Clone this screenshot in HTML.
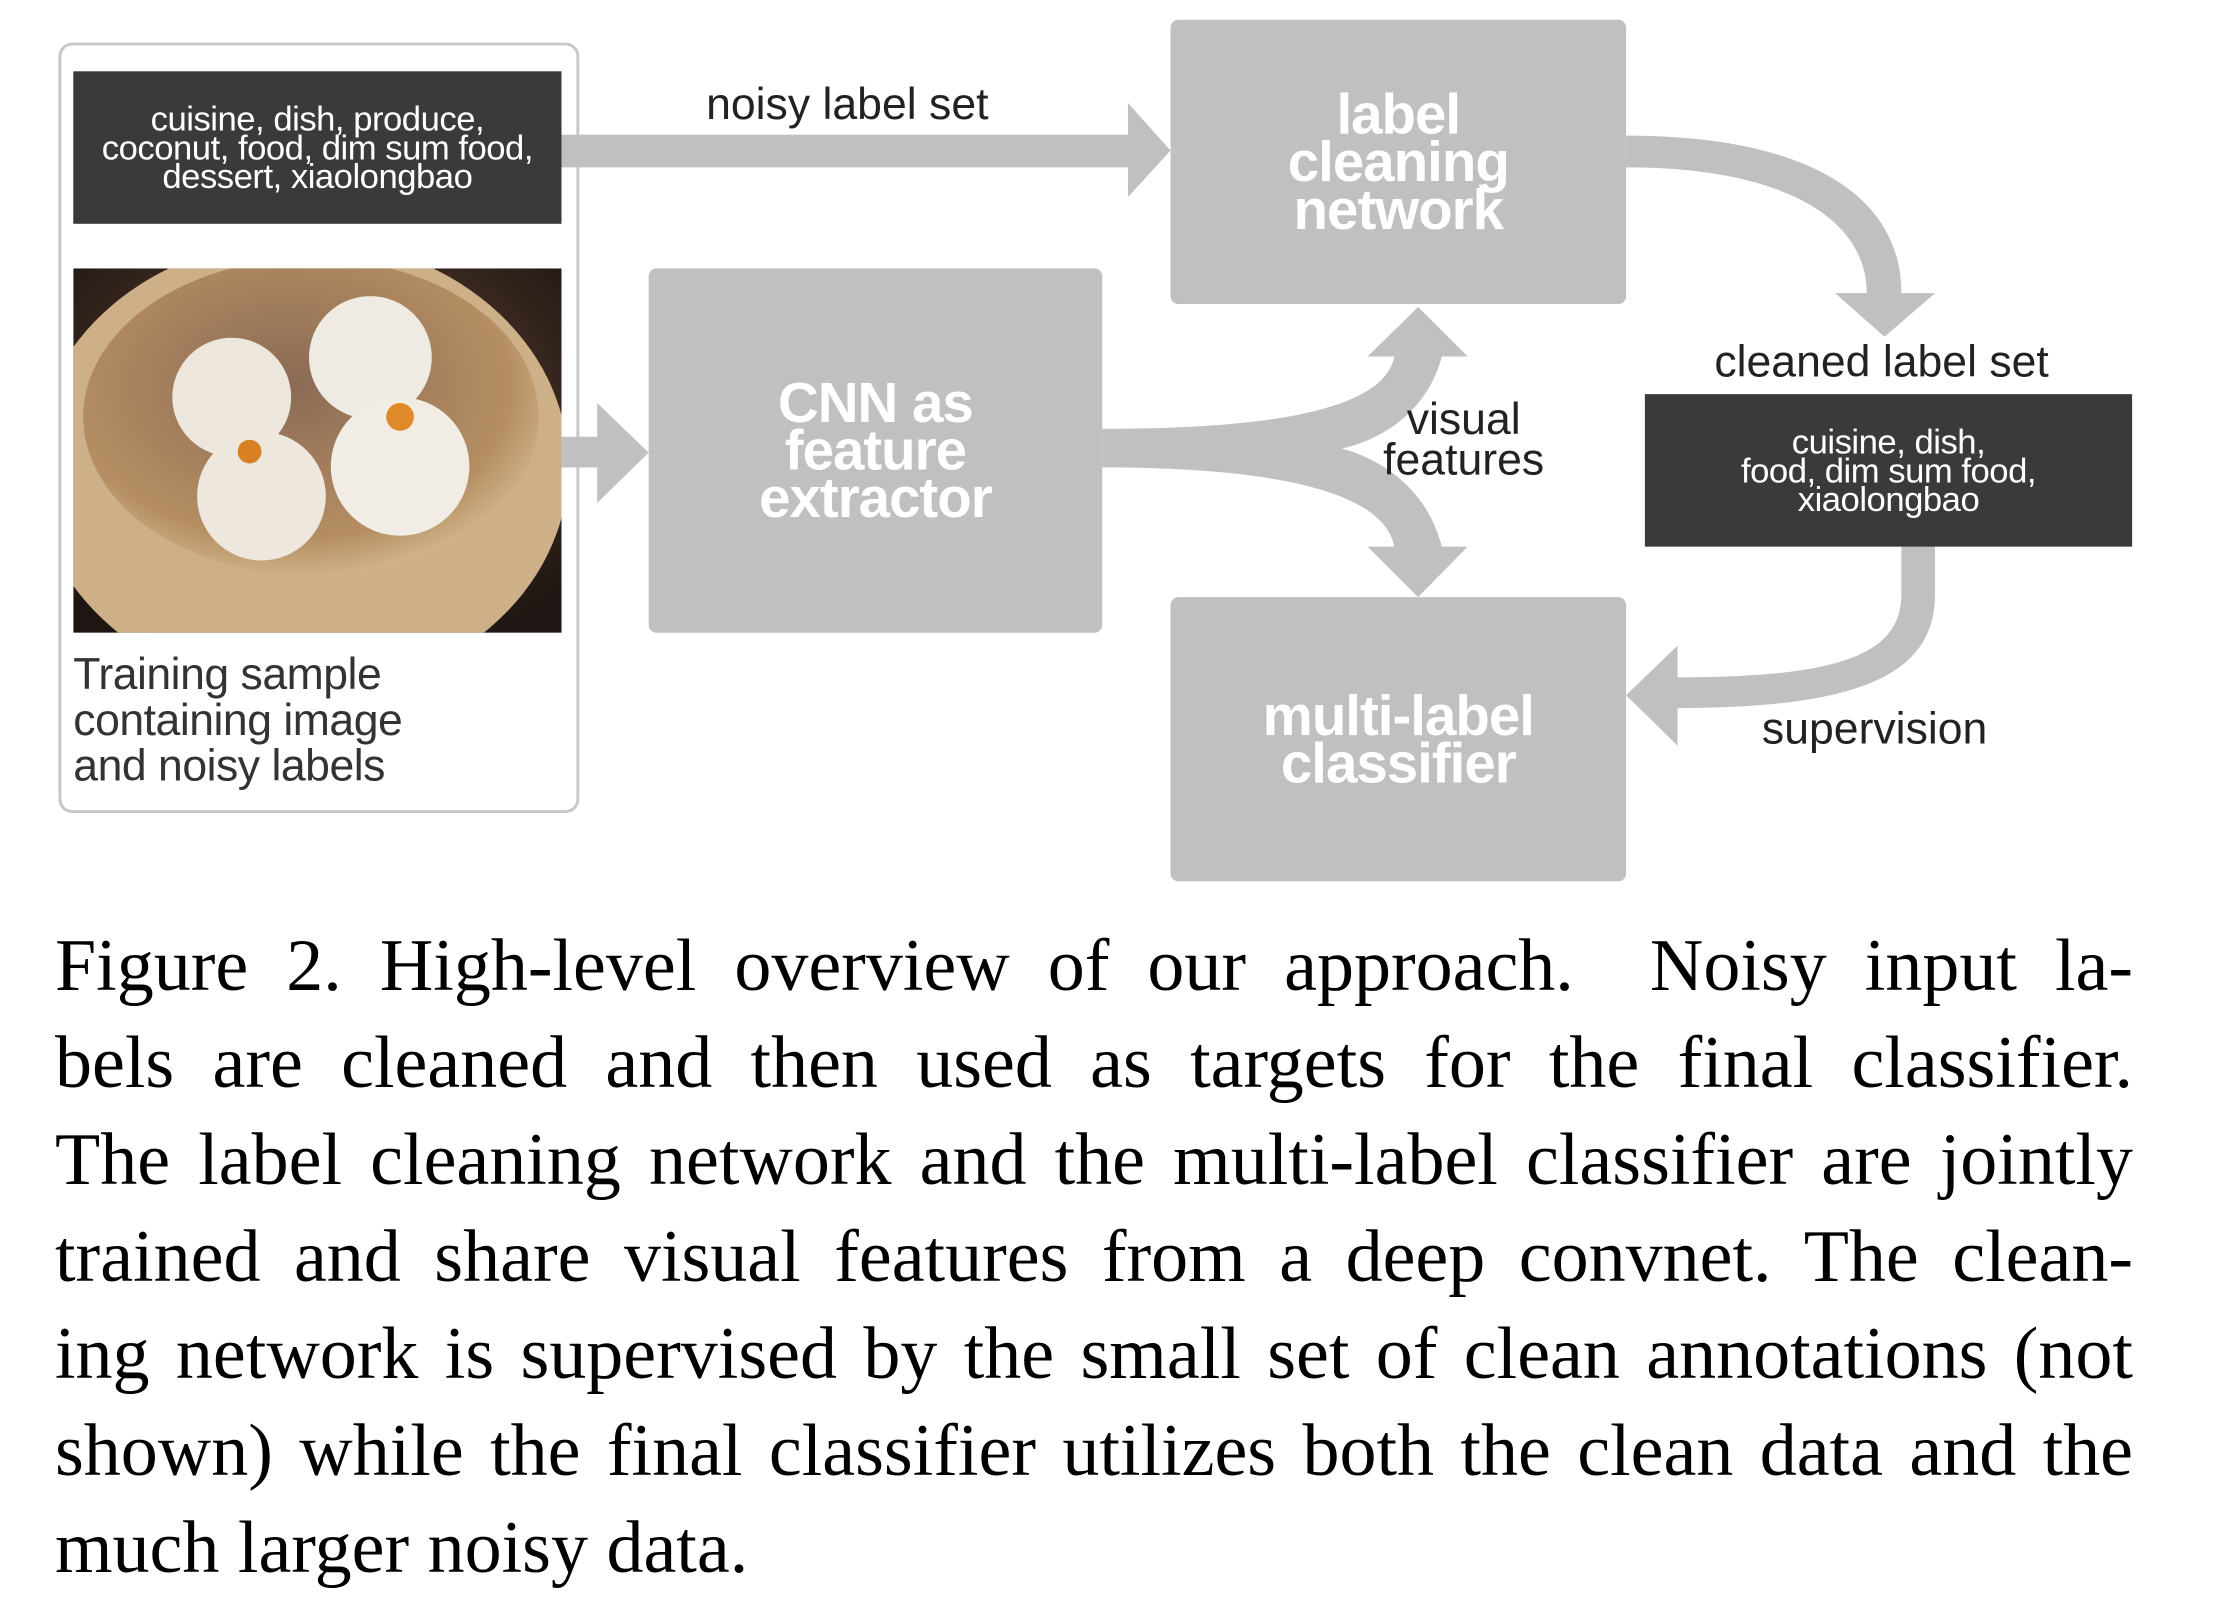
<!DOCTYPE html>
<html><head><meta charset="utf-8"><style>
body{margin:0;width:2238px;height:1618px;background:#fff;position:relative;overflow:hidden;font-family:"Liberation Sans",sans-serif}
.a{position:absolute}
#d{position:absolute;left:0;top:0;width:2238px;height:900px;transform:scale(0.9903);transform-origin:0 0}
.box{position:absolute;background:#c0c0c0;border-radius:8px;color:#fff;font-weight:bold;font-size:57px;line-height:48px;text-align:center;display:flex;align-items:center;justify-content:center;letter-spacing:-1px}
.dark{position:absolute;background:#3a3a3a;color:#fff;font-size:35px;line-height:29px;text-align:center;display:flex;align-items:center;justify-content:center;letter-spacing:-0.5px}
.lbl{position:absolute;font-size:45px;color:#222;text-align:center;line-height:41px}
.cap{position:absolute;left:55px;width:2078px;top:918px;font-family:"Liberation Serif",serif;font-size:74px;line-height:97px;color:#000}
.cap div{text-align:justify;text-align-last:justify;white-space:nowrap}
</style></head><body>
<div id="d">
<div class="a" style="left:59px;top:43px;width:520px;height:772px;border:3px solid #c8c8c8;border-radius:14px"></div>
<div class="dark" style="left:74px;top:72px;width:493px;height:154px">cuisine, dish, produce,<br>coconut, food, dim sum food,<br>dessert, xiaolongbao</div>
<svg class="a" style="left:74px;top:271px" width="493" height="368">
<defs><radialGradient id="bg" cx="50%" cy="40%" r="70%"><stop offset="0" stop-color="#6b4a3a"/><stop offset="1" stop-color="#1e1612"/></radialGradient>
<radialGradient id="st" cx="45%" cy="40%" r="65%"><stop offset="0" stop-color="#8a6a55"/><stop offset=".75" stop-color="#b58e62"/><stop offset="1" stop-color="#d9bf95"/></radialGradient></defs>
<rect width="493" height="368" fill="url(#bg)"/>
<ellipse cx="230" cy="200" rx="270" ry="230" fill="#cdb088"/>
<ellipse cx="240" cy="150" rx="230" ry="160" fill="url(#st)"/>
<ellipse cx="160" cy="130" rx="60" ry="60" fill="#ece6dc"/>
<ellipse cx="300" cy="90" rx="62" ry="62" fill="#f0ebe2"/>
<ellipse cx="330" cy="200" rx="70" ry="70" fill="#f1ece4"/>
<ellipse cx="190" cy="230" rx="65" ry="65" fill="#ede7dd"/>
<circle cx="330" cy="150" r="14" fill="#e08a2a"/><circle cx="178" cy="185" r="12" fill="#d98025"/>
</svg>
<div class="lbl" style="left:74px;top:658px;text-align:left;line-height:46px;color:#333;letter-spacing:-0.5px">Training sample<br>containing image<br>and noisy labels</div>
<svg class="a" style="left:0;top:0" width="2238" height="900">
<g fill="#c0c0c0">
<rect x="567" y="136" width="574" height="33"/>
<polygon points="1139,104 1182,152 1139,199"/>
<rect x="567" y="441" width="38" height="31"/>
<polygon points="603,407 655,457 603,508"/>
<path d="M1642,137 C1830,137 1920,200 1920,296 L1954,296 L1903,340 L1853,296 L1885,296 C1885,220 1800,169 1642,169 Z"/>
<path d="M1954,552 L1954,600 C1954,680 1880,715 1694,715 L1694,753 L1642,702 L1694,652 L1694,684 C1860,684 1920,660 1920,600 L1920,552 Z"/>
<path d="M1113,433 C1300,433 1398,410 1408,360 L1381,360 L1432,310 L1482,360 L1456,360 C1440,420 1390,445 1355,453 C1390,462 1440,490 1456,552 L1482,552 L1432,603 L1381,552 L1408,552 C1398,500 1300,472 1113,472 Z"/>
</g></svg>
<div class="box" style="left:1182px;top:20px;width:460px;height:287px">label<br>cleaning<br>network</div>
<div class="box" style="left:655px;top:271px;width:458px;height:368px">CNN as<br>feature<br>extractor</div>
<div class="box" style="left:1182px;top:603px;width:460px;height:287px">multi-label<br>classifier</div>
<div class="dark" style="left:1661px;top:398px;width:492px;height:154px">cuisine, dish,<br>food, dim sum food,<br>xiaolongbao</div>
<div class="lbl" style="left:713px;top:84px">noisy label set</div>
<div class="lbl" style="left:1378px;top:402px;width:200px">visual<br>features</div>
<div class="lbl" style="left:1700px;top:344px;width:400px">cleaned label set</div>
<div class="lbl" style="left:1743px;top:715px;width:300px">supervision</div>
</div>
<div class="cap">
<div>Figure 2. High-level overview of our approach.&nbsp; Noisy input la-</div>
<div>bels are cleaned and then used as targets for the final classifier.</div>
<div>The label cleaning network and the multi-label classifier are jointly</div>
<div>trained and share visual features from a deep convnet. The clean-</div>
<div>ing network is supervised by the small set of clean annotations (not</div>
<div>shown) while the final classifier utilizes both the clean data and the</div>
<div style="text-align-last:left">much larger noisy data.</div>
</div>
</body></html>
